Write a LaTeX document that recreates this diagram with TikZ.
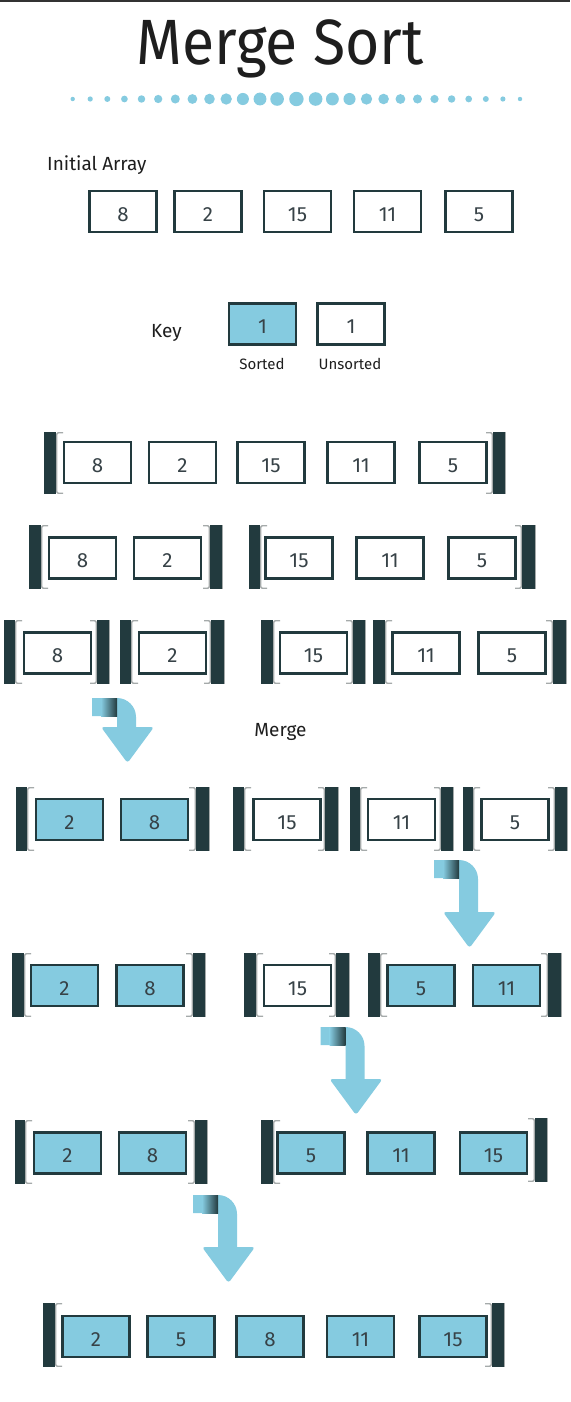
\documentclass[tikz,border=0pt]{standalone}
\usepackage{fontspec}
\newfontfamily\lightf{Fira Sans}
\definecolor{darkslate}{RGB}{34,58,62}
\definecolor{boxblue}{RGB}{133,203,224}
\definecolor{digitc}{RGB}{55,66,71}
\definecolor{titlec}{RGB}{30,30,30}
\definecolor{brkgrayc}{RGB}{165,170,170}
\definecolor{topbar}{RGB}{51,51,51}
\newcommand{\mylb}[4]{%
  \fill[brk] (#1,#3) rectangle (#2,#4);
  \draw[brkgray] ({#2+7},{#3+0.7}) -- ({#2+0.7},{#3+0.7}) -- ({#2+0.7},{#4-0.7}) -- ({#2+7},{#4-0.7});}
\newcommand{\myrb}[4]{%
  \fill[brk] (#1,#3) rectangle (#2,#4);
  \draw[brkgray] ({#1-7},{#3+0.7}) -- ({#1-0.7},{#3+0.7}) -- ({#1-0.7},{#4-0.7}) -- ({#1-7},{#4-0.7});
  \draw[draw=brkgrayc, line width=0.8pt] ({#2+0.4},#3) -- ({#2+0.4},#4);}
\newcommand{\myarrow}[3]{%
  \fill[boxblue] (#1,#2) -- ({#1+25},#2) .. controls ({#1+35.5},#2) and ({#1+44},{#2+8.5}) .. ({#1+44},{#2+19}) -- ({#1+44},#3)
    {[rounded corners=3pt] -- ({#1+62},#3) -- ({#1+35.5},{#3+36}) -- ({#1+9},#3)} -- ({#1+25},#3) -- ({#1+25},{#2+18}) -- (#1,{#2+18}) -- cycle;
  \shade[left color=boxblue, right color=darkslate] ({#1+9},#2) rectangle ({#1+25},{#2+18});}
\begin{document}
\begin{tikzpicture}[x=1pt,y=-1pt,
  ubox/.style={draw=darkslate, line width=2.6pt, minimum width=67pt, minimum height=41pt, inner sep=0pt,
    text height=19pt, text depth=0pt, font=\lightf\fontsize{20.5}{20.5}\selectfont, text=digitc},
  sbox/.style={ubox, fill=boxblue},
  lbl/.style={font=\lightf\fontsize{19}{19}\selectfont, text=titlec, inner sep=0pt},
  small/.style={font=\lightf\fontsize{15}{15}\selectfont, text=titlec, inner sep=0pt},
  brk/.style={fill=darkslate},
  brkgray/.style={draw=brkgrayc, line width=1.3pt, rounded corners=1.5pt},
]
\useasboundingbox (0,0) rectangle (570,1402);
\fill[white] (0,0) rectangle (570,1402);
\fill[topbar] (0,0) rectangle (570,2.2);
% title
\node[font=\lightf\fontsize{64}{64}\selectfont, text=titlec, inner sep=0pt, anchor=base] (title) at (280,65) {\scalebox{0.92}[1]{Merge Sort}};
% dots
\foreach \x [count=\i from 0] in {72.7,90.2,107.3,124.4,141.5,158.2,175.3,192.4,209.5,226.2,242.9,260,277.1,296.4,315.6,332.4,349.5,366.5,383.6,400.4,417.5,434.5,451.6,468.7,485.8,502.9,520}{
  \pgfmathsetmacro\rr{2.2+5*(1-abs(\i-13)/13)}
  \fill[boxblue] (\x,99) circle[radius=\rr pt];
}
% initial array
\node[lbl, anchor=base west] (initlbl) at (47,170) {Initial Array};
\node[ubox] (i1) at (123,211.5) {8};
\node[ubox] (i2) at (208,211.5) {2};
\node[ubox] (i3) at (297.5,211.5) {15};
\node[ubox] (i4) at (387.5,211.5) {11};
\node[ubox] (i5) at (479,211.5) {5};
% key
\node[lbl, anchor=base] (keylbl) at (166.5,337) {Key};
\node[sbox] (ks) at (262.5,324) {1};
\node[ubox] (ku) at (351,324) {1};
\node[small, anchor=base] (kslbl) at (262,369) {Sorted};
\node[small, anchor=base] (kulbl) at (350,369) {Unsorted};
% row 1
\mylb{44}{56}{432}{494}\myrb{493}{505}{432}{494}
\node[ubox] (a1) at (97.5,462.5) {8};
\node[ubox] (a2) at (182.5,462.5) {2};
\node[ubox] (a3) at (271,462.5) {15};
\node[ubox] (a4) at (361,462.5) {11};
\node[ubox] (a5) at (453,462.5) {5};
% row 2
\mylb{29}{41}{525}{589}\myrb{210}{222}{525}{589}
\mylb{249}{260}{525}{589}\myrb{522}{535}{525}{589}
\node[ubox] (b1) at (82.5,558) {8};
\node[ubox] (b2) at (167.5,558) {2};
\node[ubox] (b3) at (299,558) {15};
\node[ubox] (b4) at (390,558) {11};
\node[ubox] (b5) at (482,558) {5};
% row 3
\mylb{4}{15}{620}{684}\myrb{97}{109}{620}{684}
\mylb{120}{131}{620}{684}\myrb{211}{224}{620}{684}
\mylb{261}{273}{620}{684}\myrb{353}{365}{620}{684}
\mylb{373}{385}{620}{684}\myrb{553}{566}{620}{684}
\node[ubox] (c1) at (57.5,653) {8};
\node[ubox] (c2) at (172.5,653) {2};
\node[ubox] (c3) at (313.5,653) {15};
\node[ubox] (c4) at (426,653) {11};
\node[ubox] (c5) at (512,653) {5};
% merge arrow 1 and label
\myarrow{92}{698}{727}
\node[lbl, anchor=base] (mergelbl) at (280.5,736) {Merge};
% row 4
\mylb{16}{27}{787}{851}\myrb{196}{209}{787}{851}
\mylb{233}{244}{787}{851}\myrb{325}{338}{787}{851}
\mylb{350}{360}{787}{851}\myrb{441}{453}{787}{851}
\mylb{463}{473}{787}{851}\myrb{555}{567}{787}{851}
\node[sbox] (d1) at (69.5,819.5) {2};
\node[sbox] (d2) at (154.5,819.5) {8};
\node[ubox] (d3) at (287,819.5) {15};
\node[ubox] (d4) at (401.5,819.5) {11};
\node[ubox] (d5) at (515,819.5) {5};
% arrow 2
\myarrow{434}{860}{912}
% row 5
\mylb{12}{24}{953}{1017}\myrb{193}{205}{953}{1017}
\mylb{244}{256}{953}{1017}\myrb{336}{349}{953}{1017}
\mylb{368}{380}{953}{1017}\myrb{548}{561}{953}{1017}
\node[sbox] (e1) at (64.5,985.5) {2};
\node[sbox] (e2) at (150,985.5) {8};
\node[ubox] (e3) at (297.5,985.5) {15};
\node[sbox] (e4) at (421,985.5) {5};
\node[sbox] (e5) at (506.5,985.5) {11};
% arrow 3
\myarrow{320.5}{1027}{1079}
% row 6
\mylb{15}{25}{1120}{1184}\myrb{195}{207}{1120}{1184}
\mylb{261}{273}{1120}{1184}\myrb{535}{547}{1118}{1182}
\node[sbox] (f1) at (67.5,1153) {2};
\node[sbox] (f2) at (152.5,1153) {8};
\node[sbox] (f3) at (311,1153) {5};
\node[sbox] (f4) at (401,1153) {11};
\node[sbox] (f5) at (493.5,1153) {15};
% arrow 4
\myarrow{193}{1195}{1247}
% row 7
\mylb{43}{55}{1303}{1367}\myrb{492}{504}{1303}{1367}
\node[sbox] (g1) at (96,1336.5) {2};
\node[sbox] (g2) at (181,1336.5) {5};
\node[sbox] (g3) at (270,1336.5) {8};
\node[sbox] (g4) at (360.5,1336.5) {11};
\node[sbox] (g5) at (453,1336.5) {15};
\end{tikzpicture}
\end{document}
